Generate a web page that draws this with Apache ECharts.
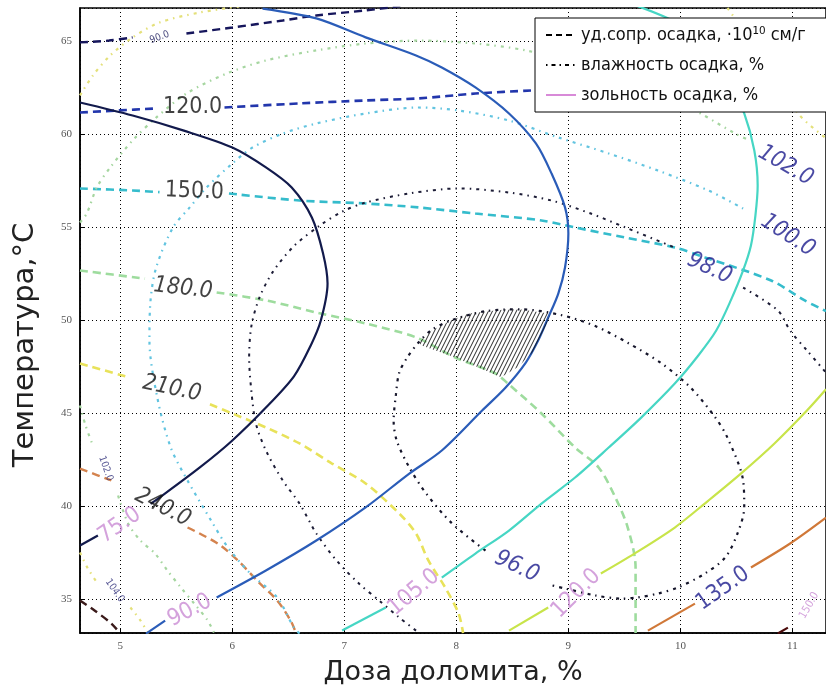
<!DOCTYPE html>
<html><head><meta charset="utf-8">
<script src="https://cdn.jsdelivr.net/npm/echarts@6/dist/echarts.min.js"></script>
<style>html,body{margin:0;padding:0;background:#fff}#c{width:826px;height:695px}</style>
</head><body><div id="c"></div>
<script>
// ---------- data ----------
const xRange = [4.64, 11.3];
const yRange = [33.2, 66.8];
const xTitle = 'Доза доломита, %';
const yTitle = 'Температура,°С';
const legendNames = ['уд.сопр. осадка, ·10¹⁰ см/г', 'влажность осадка, %', 'зольность осадка, %'];

// specific resistance (dashed), each contour = list of segments
const resist90 = [[[4.64,64.95],[4.90,65.05],[5.11,65.22]],[[5.59,65.43],[6.0,65.75],[6.45,66.13],[6.75,66.40],[7.19,66.67],[7.5,66.9]]];
const resist120 = [[[4.64,61.18],[4.97,61.29],[5.33,61.4]],[[5.93,61.45],[6.60,61.67],[7.19,61.83],[7.66,61.94],[8.17,62.2],[8.67,62.37],[9.71,62.69],[11.3,63.17]]];
const resist150 = [[[4.64,57.10],[5.11,56.99],[5.35,56.9]],[[5.97,56.83],[6.60,56.45],[7.19,56.29],[7.66,56.08],[8.17,55.75],[8.76,55.38],[9.06,55.0],[9.51,54.46],[9.95,53.92],[10.22,53.39],[10.81,52.15],[11.11,51.08],[11.3,50.5]]];
const resist180 = [[[4.64,52.69],[5.22,52.25]],[[5.86,51.51],[6.30,51.08],[6.75,50.43],[7.19,49.84],[7.64,49.09],[7.99,48.01],[8.35,47.15],[8.46,46.61],[8.76,45.0],[9.06,43.17],[9.27,42.10],[9.42,40.48],[9.53,38.87],[9.60,36.72],[9.60,33.2]]];
const resist210 = [[[4.64,47.69],[5.08,46.94]],[[5.80,45.5],[6.0,45.0],[6.30,44.25],[6.60,43.39],[6.89,42.31],[7.19,41.24],[7.49,39.62],[7.64,38.55],[7.75,37.10],[7.90,35.65],[8.02,34.25],[8.06,33.2]]];
const resist240 = [[[4.64,42.04],[4.92,41.40]],[[5.60,38.87],[5.87,38.01],[6.05,37.10],[6.22,36.02],[6.40,34.95],[6.52,33.87],[6.57,33.17]]];
const resist270 = [[[4.64,34.95],[4.77,34.41],[4.92,33.71],[5.0,33.17]]];

// moisture (dash-dot)
const moist96 = [[[8.26,37.63],[7.96,39.1],[7.73,40.7],[7.58,42.1],[7.47,43.5],[7.44,44.6],[7.46,46.0],[7.49,47.2],[7.56,48.0],[7.66,48.8],[7.78,49.5],[7.95,50.0],[8.26,50.5],[8.58,50.6],[8.93,50.3],[9.24,49.7],[9.53,48.8],[9.83,47.7],[10.09,46.4],[10.31,44.8],[10.42,43.7],[10.56,41.4],[10.57,39.95],[10.51,38.55],[10.40,37.26],[10.22,36.4],[9.98,35.65],[9.80,35.32],[9.62,35.11],[9.47,35.05],[9.24,35.22],[8.97,35.59],[8.82,35.81]]];
const moist98 = [[[7.64,33.33],[7.49,34.03],[7.31,34.95],[7.13,35.86],[6.93,37.10],[6.75,38.55],[6.60,40.16],[6.45,41.40],[6.30,43.01],[6.21,44.46],[6.17,46.2],[6.15,48.0],[6.17,49.7],[6.24,51.2],[6.36,52.6],[6.55,54.0],[6.78,55.1],[6.98,55.85],[7.19,56.34],[7.58,56.83],[8.02,57.10],[8.47,56.88],[8.85,56.45],[9.20,55.75],[9.51,55.0],[9.95,53.92]],[[10.56,51.77],[10.87,50.54],[10.98,49.46],[11.13,48.39],[11.3,47.2]]];
const moist100 = [[[6.60,33.17],[6.55,33.49],[6.40,35.11],[6.16,36.40],[5.96,37.80],[5.81,39.25],[5.60,41.40],[5.45,43.17],[5.33,45.86],[5.26,48.92],[5.27,51.1],[5.32,52.85],[5.47,55.0],[5.62,56.08],[5.77,57.15],[6.0,58.44],[6.18,59.30],[6.45,60.05],[6.75,60.59],[7.19,61.13],[7.66,61.45],[8.02,61.29],[8.47,60.75],[8.91,59.84],[9.36,58.98],[9.80,58.06],[10.25,56.99],[10.56,56.02]]];
const moist102 = [[[4.64,55.27],[4.70,55.75],[4.79,57.15],[4.91,58.23],[5.11,59.68],[5.32,60.91],[5.59,62.2],[5.95,63.28],[6.30,63.98],[6.75,64.52],[7.19,64.89],[7.66,65.05],[8.17,64.89],[8.62,64.52],[9.27,63.55],[9.71,62.63],[10.18,61.13],[10.49,60.05],[10.62,59.68]],[[4.64,45.43],[4.69,44.35],[4.755,43.28]],[[4.98,40.59],[5.07,39.09],[5.18,38.17],[5.31,37.47],[5.42,36.56],[5.54,35.65],[5.66,34.78],[5.78,33.87],[5.84,33.17]]];
const moist104 = [[[4.64,62.1],[4.755,63.17],[4.91,64.25],[5.11,65.22],[5.35,66.02],[5.71,66.56],[6.06,66.88]],[[10.42,66.8],[10.69,64.52],[11.05,61.13],[11.3,59.8]],[[4.64,37.53],[4.71,36.67],[4.78,36.02]],[[5.09,34.57],[5.18,33.87],[5.25,33.17]]];

// ash content (solid)
const ash75 = [[[4.64,61.72],[5.11,61.02],[5.56,60.22],[6.0,59.30],[6.30,58.23],[6.53,57.15],[6.71,55.54],[6.81,53.60],[6.85,51.99],[6.79,50.0],[6.70,48.66],[6.55,47.0],[6.30,45.32],[6.0,43.55],[5.71,42.10],[5.35,40.48],[5.27,40.15]],[[4.80,38.44],[4.64,37.9]]];
const ash90 = [[[6.27,66.77],[6.75,66.24],[7.19,65.22],[7.64,64.25],[7.87,63.60],[8.17,62.53],[8.47,61.13],[8.71,59.52],[8.85,57.90],[8.97,56.08],[9.0,54.68],[8.97,52.85],[8.91,51.45],[8.82,50.16],[8.73,48.92],[8.62,47.74],[8.44,46.40],[8.23,45.16],[7.87,43.01],[7.58,41.77],[7.19,39.95],[6.75,38.17],[6.30,36.56],[5.86,35.11]],[[5.40,33.87],[5.23,33.17]]];
const ash105 = [[[6.98,33.33],[7.37,34.57]],[[7.87,36.18],[8.17,37.47],[8.47,38.71],[8.76,40.16],[9.06,41.56],[9.36,43.17],[9.65,44.78],[9.95,46.61],[10.16,48.12],[10.32,49.46],[10.45,51.08],[10.56,52.69],[10.63,54.03],[10.67,55.65],[10.69,57.26],[10.66,59.14],[10.57,61.13],[10.45,62.6],[10.28,64.3],[10.03,65.8],[9.62,66.9]]];
const ash120 = [[[8.47,33.33],[8.82,34.57]],[[9.29,36.40],[9.59,37.47],[9.95,38.87],[10.25,40.32],[10.54,41.77],[10.84,43.39],[11.13,45.16],[11.3,46.3]]];
const ash135 = [[[9.71,33.33],[10.13,34.78]],[[10.63,36.72],[10.98,38.01],[11.3,39.4]]];
const ash150 = [[[10.87,33.17],[10.96,33.49]]];

// hatched optimum region
const hatchRegion = [[7.66,48.82],[7.78,49.46],[7.95,50.0],[8.11,50.38],[8.26,50.48],[8.44,50.59],[8.58,50.59],[8.76,50.43],[8.84,50.38],[8.78,49.4],[8.70,48.4],[8.55,47.5],[8.40,46.95],[7.99,48.01],[7.69,48.66]];

// contour labels: [x, y, text]
const resistLabels = [[5.645,61.45,'120.0'],[5.66,56.94,'150.0'],[5.56,51.72,'180.0'],[5.46,46.34,'210.0'],[5.38,39.95,'240.0']];
const resistSmallLabels = [[5.35,65.22,'90.0']];
const moistLabels = [[8.54,36.77,'96.0'],[10.26,52.8,'98.0'],[10.96,54.57,'100.0'],[10.94,58.33,'102.0']];
const moistSmallLabels = [[4.87,42.04,'102.0'],[4.95,35.48,'104.0']];
const ashLabels = [[4.995,38.98,'75.0'],[5.62,34.41,'90.0'],[7.62,35.38,'105.0'],[9.07,35.32,'120.0'],[10.38,35.59,'135.0']];
const ashSmallLabels = [[11.15,34.68,'150.0']];

// ---------- styles ----------
const DASH = [8, 5];
const DASHDOT = [3, 5, 1.5, 5];
const labelFont = "'DejaVu Sans Condensed','Liberation Sans Narrow','DejaVu Sans',sans-serif";
const NAVY = '#1c1c8c', PINK = '#c98bd3', BLACK = '#111';

const series = [];
function addContour(segs, color, type, width) {
  segs.forEach(seg => series.push({
    type: 'line', data: seg, smooth: 0.3, symbol: 'none', silent: true,
    animation: false, clip: true, z: 3,
    lineStyle: { color, type, width, cap: 'butt' }
  }));
}
addContour(resist90, '#16165c', DASH, 2.4);
addContour(resist120, '#2236ac', DASH, 2.6);
addContour(resist150, '#35bccc', DASH, 2.6);
addContour(resist180, '#9edc9e', DASH, 2.6);
addContour(resist210, '#e8e25a', DASH, 2.6);
addContour(resist240, '#d4834e', DASH, 2.4);
addContour(resist270, '#3a1a1a', DASH, 2.4);

addContour(moist96, '#15152a', DASHDOT, 2.2);
addContour(moist98, '#1c1c36', DASHDOT, 2.0);
addContour(moist100, '#62c4e0', DASHDOT, 2.2);
addContour(moist102, '#a6d6a0', DASHDOT, 2.2);
addContour(moist104, '#e4e07a', DASHDOT, 2.2);

addContour(ash75, '#121a4c', 'solid', 2.2);
addContour(ash90, '#2a5cb8', 'solid', 2.2);
addContour(ash105, '#46d6c4', 'solid', 2.2);
addContour(ash120, '#c8e44a', 'solid', 2.2);
addContour(ash135, '#d07838', 'solid', 2.2);
addContour(ash150, '#4a0a0a', 'solid', 2.2);

// hatch pattern
const pat = document.createElement('canvas');
pat.width = 4; pat.height = 8;
(function(){
  const g = pat.getContext('2d');
  g.strokeStyle = '#111'; g.lineWidth = 0.9;
  [-4, 0, 4].forEach(o => { g.beginPath(); g.moveTo(o - 1, 10); g.lineTo(o + 5, -2); g.stroke(); });
})();
series.push({
  type: 'custom', coordinateSystem: 'cartesian2d', silent: true, animation: false, z: 4,
  data: [[8.3, 49]],
  renderItem: (params, api) => ({
    type: 'polygon',
    shape: { points: hatchRegion.map(p => api.coord(p)) },
    style: { fill: { image: pat, repeat: 'repeat' }, stroke: null }
  })
});

// labels
function addLabels(list, colors, rots, size, styles) {
  series.push({
    type: 'scatter', silent: true, animation: false, z: 6,
    symbolSize: 1, itemStyle: { color: 'rgba(0,0,0,0)' },
    data: list.map((d, i) => ({
      value: [d[0], d[1]],
      label: {
        show: true, position: 'inside', formatter: d[2],
        rotate: rots[i], color: Array.isArray(colors) ? colors[i] : colors,
        fontSize: size, fontFamily: labelFont,
        fontStyle: styles ? styles[i] : 'normal'
      }
    }))
  });
}
addLabels(resistLabels, BLACK, [0, -2, -6, -12, -27], 23, ['normal', 'normal', 'italic', 'italic', 'italic']);
addLabels(resistSmallLabels, '#202060', [20], 10);
addLabels(moistLabels, NAVY, [-25, -25, -33, -30], 23, ['italic', 'italic', 'italic', 'italic']);
addLabels(moistSmallLabels, '#30307a', [-70, -55], 10);
addLabels(ashLabels, [PINK, PINK, PINK, PINK, NAVY], [35, 28, 40, 45, 35], 23);
addLabels(ashSmallLabels, PINK, [60], 11);

// legend proxies
const legendStyles = [
  { color: '#000', type: [6, 4], width: 2.5 },
  { color: '#000', type: [1.5, 4, 4, 4], width: 1.6 },
  { color: '#d88ad8', type: 'solid', width: 1.2 }
];
legendNames.forEach((n, i) => series.push({
  type: 'line', name: n, data: [], symbol: 'none',
  lineStyle: legendStyles[i], itemStyle: { color: 'rgba(0,0,0,0)', borderWidth: 0 }
}));

const axisTickFont = { fontSize: 11, color: '#555', fontFamily: "'Liberation Serif','DejaVu Serif',serif" };
const titleFont = "'DejaVu Sans',sans-serif";
const chart = echarts.init(document.getElementById('c'), null, { renderer: 'canvas' });
chart.setOption({
  animation: false,
  backgroundColor: '#fff',
  grid: { left: 80, top: 8, right: -3, bottom: 62, show: true, borderColor: '#000', borderWidth: 1.5, backgroundColor: 'transparent' },
  xAxis: {
    type: 'value', min: xRange[0], max: xRange[1], splitNumber: 7,
    axisLine: { show: true, lineStyle: { color: '#000', width: 1.5 } },
    axisTick: { show: true, inside: true, length: 4, lineStyle: { color: '#000' } },
    axisLabel: Object.assign({ showMinLabel: false, showMaxLabel: false, margin: 8 }, axisTickFont),
    splitLine: { show: true, lineStyle: { color: '#000', type: [1, 3], width: 1 } },
    name: xTitle, nameLocation: 'middle', nameGap: 26,
    nameTextStyle: { fontSize: 27, color: '#222', fontFamily: titleFont }
  },
  yAxis: {
    type: 'value', min: yRange[0], max: yRange[1], splitNumber: 7,
    axisLine: { show: true, lineStyle: { color: '#000', width: 1.5 } },
    axisTick: { show: true, inside: true, length: 4, lineStyle: { color: '#000' } },
    axisLabel: Object.assign({ showMinLabel: false, showMaxLabel: false, margin: 8 }, axisTickFont),
    splitLine: { show: true, lineStyle: { color: '#000', type: [1, 3], width: 1 } }
  },
  graphic: [{
    type: 'text', x: 25, y: 345, rotation: Math.PI / 2, silent: true,
    style: { text: yTitle, fontSize: 29, fill: '#222', fontFamily: titleFont, align: 'center', verticalAlign: 'middle' }
  }],
  legend: {
    data: legendNames, orient: 'vertical', left: 535, top: 18, z: 10,
    backgroundColor: '#fff', borderColor: '#000', borderWidth: 1, borderRadius: 0,
    padding: [8, 30, 8, 10], itemGap: 12, itemWidth: 30, itemHeight: 18,
    itemStyle: { color: 'rgba(0,0,0,0)', borderWidth: 0 },
    textStyle: { fontSize: 18, color: '#111', fontFamily: labelFont },
    selectedMode: false
  },
  series
});
</script>
</body></html>
